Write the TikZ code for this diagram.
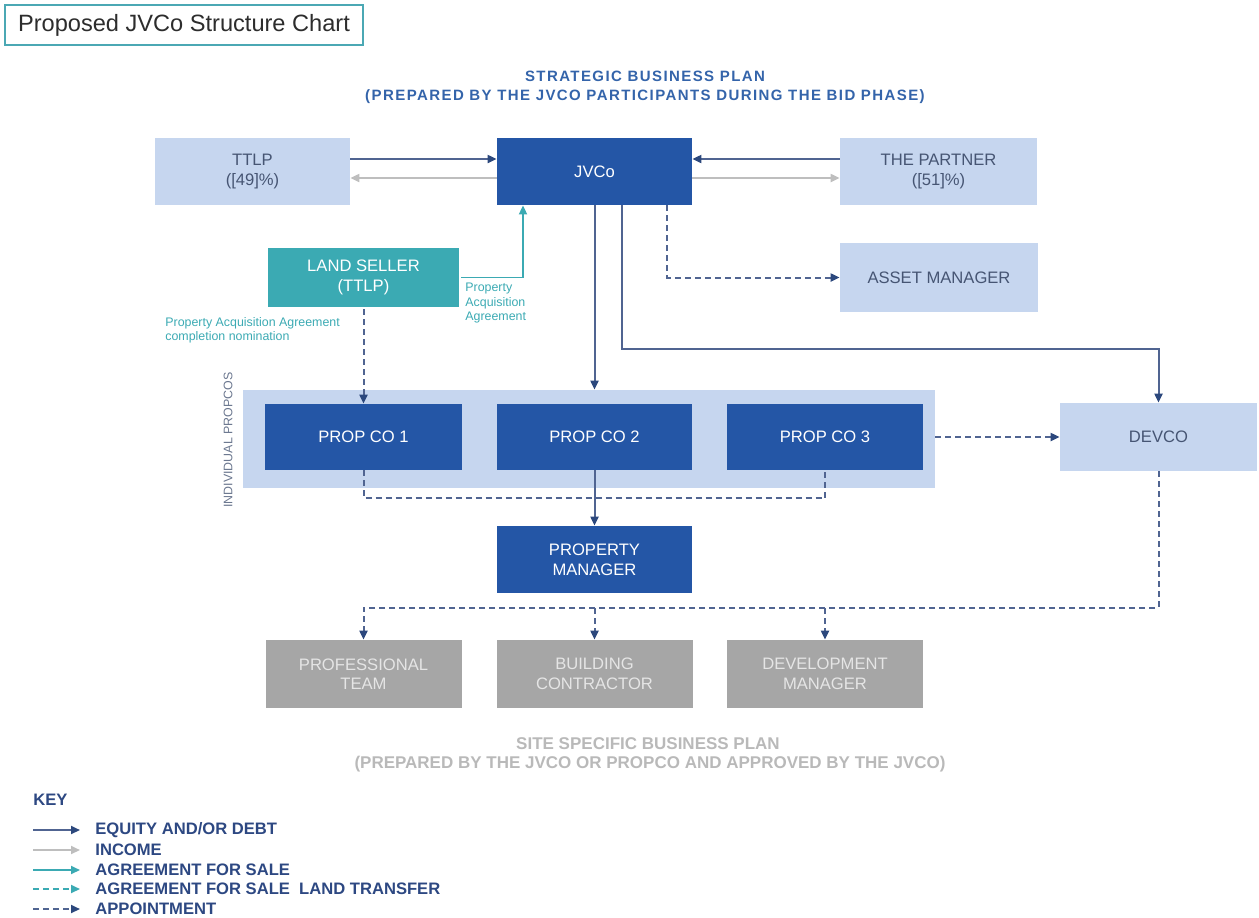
\documentclass[tikz,border=0pt]{standalone}
\usepackage{fontspec}
\setmainfont{Liberation Sans}
\usetikzlibrary{arrows.meta,calc}
\definecolor{dblue}{RGB}{36,86,166}
\definecolor{lblue}{RGB}{198,214,239}
\definecolor{navy}{RGB}{44,72,125}
\definecolor{lnavy}{RGB}{80,100,145}
\definecolor{boxtxt}{RGB}{70,85,115}
\definecolor{incgray}{RGB}{190,190,190}
\definecolor{tealc}{RGB}{59,170,179}
\definecolor{boxgray}{RGB}{166,166,166}
\definecolor{headblue}{RGB}{52,100,170}
\definecolor{sitegray}{RGB}{185,185,185}
\definecolor{keynavy}{RGB}{45,72,130}
\definecolor{titlegray}{RGB}{45,45,45}
\definecolor{titleteal}{RGB}{75,168,180}
\tikzset{
  lbox/.style={fill=lblue, minimum width=97.5pt, minimum height=33.5pt, text=boxtxt, align=center, font=\fontsize{8.3}{9.8}\selectfont, inner sep=0pt},
  dbox/.style={fill=dblue, minimum width=97.5pt, minimum height=33.5pt, text=white, align=center, font=\fontsize{8.3}{9.8}\selectfont, inner sep=0pt},
  gbox/.style={fill=boxgray, minimum width=98pt, minimum height=34pt, text=white!90!black, align=center, font=\fontsize{8.3}{9.8}\selectfont, inner sep=0pt},
  tbox/.style={fill=tealc, draw=white, line width=1pt, minimum width=96.5pt, minimum height=30.5pt, text=white, align=center, font=\fontsize{8.3}{9.8}\selectfont, inner sep=0pt},
  eq/.style={draw=lnavy, line width=1pt, arrows={-{Triangle[length=4.5pt,width=4pt,fill=navy,color=navy]}}},
  inc/.style={draw=incgray, line width=1pt, arrows={-{Triangle[length=4.5pt,width=4pt]}}},
  sale/.style={draw=tealc, line width=0.9pt, arrows={-{Triangle[length=4.5pt,width=4pt]}}},
  saled/.style={draw=tealc, line width=0.9pt, dash pattern=on 3pt off 2pt, arrows={-{Triangle[length=4.5pt,width=4pt]}}},
  appt/.style={draw=lnavy, line width=1pt, dash pattern=on 3pt off 2pt, arrows={-{Triangle[length=4.5pt,width=4pt,fill=navy,color=navy]}}},
  apptl/.style={draw=lnavy, line width=1pt, dash pattern=on 3pt off 2pt},
  keytxt/.style={anchor=west, text=keynavy, font=\fontsize{8.3}{9.5}\selectfont\bfseries, inner sep=0pt},
  small/.style={text=tealc, font=\fontsize{6.2}{7.2}\selectfont, align=left, inner sep=0pt}
}
\begin{document}
\begin{tikzpicture}[x=0.5pt,y=-0.5pt]
\useasboundingbox (0,0) rectangle (1259,917);
% title
\node[draw=titleteal, line width=1.3pt, fill=white, minimum width=179pt, minimum height=20pt, text=titlegray, font=\fontsize{11.8}{13}\selectfont, inner sep=0pt] (title) at (184,25) {Proposed JVCo Structure Chart};
% heading
\node[text=headblue, font=\fontsize{7.5}{9}\selectfont\bfseries\addfontfeature{LetterSpace=9.5}] (head1) at (645,76) {STRATEGIC BUSINESS PLAN};
\node[text=headblue, font=\fontsize{7.5}{9}\selectfont\bfseries\addfontfeature{LetterSpace=9.5}] (head2) at (645,97) {(PREPARED BY THE JVCO PARTICIPANTS DURING THE BID PHASE)};
% top row
\node[lbox] (ttlp) at (252.5,171.5) {TTLP\\([49]\%)};
\node[dbox] (jvco) at (594.5,171.5) {JVCo};
\node[lbox, minimum width=98.5pt] (partner) at (938.5,171.5) {THE PARTNER\\([51]\%)};
\node[tbox] (land) at (363.5,277.5) {LAND SELLER\\(TTLP)};
\node[lbox, minimum width=99pt, minimum height=34.5pt] (asset) at (939,277.5) {ASSET MANAGER};
% propcos band
\node[fill=lblue, minimum width=346pt, minimum height=49pt, inner sep=0pt] (band) at (589,439) {};
\node[dbox, minimum width=98.5pt, minimum height=33pt] (p1) at (363.5,437) {PROP CO 1};
\node[dbox, minimum height=33pt] (p2) at (594.5,437) {PROP CO 2};
\node[dbox, minimum width=98pt, minimum height=33pt] (p3) at (825,437) {PROP CO 3};
\node[lbox, minimum width=98.5pt, minimum height=34pt] (devco) at (1158.5,437) {DEVCO};
\node[rotate=90, text=boxtxt!80!white, font=\fontsize{6.2}{7}\selectfont, inner sep=0pt] (indiv) at (228,440) {INDIVIDUAL PROPCOS};
\node[dbox] (pm) at (594.5,559.5) {PROPERTY\\MANAGER};
% bottom row
\node[gbox] (prof) at (363.5,674) {PROFESSIONAL\\TEAM};
\node[gbox] (build) at (594.5,674) {BUILDING\\CONTRACTOR};
\node[gbox] (devm) at (825,674) {DEVELOPMENT\\MANAGER};
\node[text=sitegray, font=\fontsize{8.5}{9}\selectfont\bfseries] (site1) at (648,744) {SITE SPECIFIC BUSINESS PLAN};
\node[text=sitegray, font=\fontsize{8.5}{9}\selectfont\bfseries] (site2) at (650,764) {(PREPARED BY THE JVCO OR PROPCO AND APPROVED BY THE JVCO)};
% labels
\node[small, anchor=north west] (lab1) at (465,283) {Property\\Acquisition\\Agreement};
\node[small, anchor=north west] (lab2) at (165,317) {Property Acquisition Agreement\\completion nomination};
% helper coordinates
\coordinate (y159) at (0,159);
\coordinate (y178) at (0,178);
\coordinate (bus) at (0,608);
% connectors top
\draw[eq] (ttlp.east |- y159) -- (jvco.west |- y159);
\draw[inc] (jvco.west |- y178) -- (ttlp.east |- y178);
\draw[eq] (partner.west |- y159) -- (jvco.east |- y159);
\draw[inc] (jvco.east |- y178) -- (partner.west |- y178);
\draw[sale] (land.east) -| ($(jvco.south)+(-71.5,0)$);
\draw[appt] (land.south) -- (p1.north);
\draw[appt] ($(jvco.south)+(72.5,0)$) |- (asset.west);
\draw[eq] (jvco.south) -- (band.north -| jvco.south);
\draw[eq] ($(jvco.south)+(27.5,0)$) -- ++(0,144) -| (devco.north);
\draw[appt] (band.east |- devco.west) -- (devco.west);
\draw[apptl] (p1.south) -- ++(0,28) -| (p3.south);
\draw[eq] (p2.south) -- (pm.north);
\draw[appt] (devco.south) |- (bus -| prof.north) -- (prof.north);
\draw[appt] (bus -| build.north) -- (build.north);
\draw[appt] (bus -| devm.north) -- (devm.north);
% key
\node[keytxt] (key) at (33,800) {KEY};
\foreach \i/\yy/\sty/\txt in {1/830/eq/{EQUITY AND/OR DEBT}, 2/850/inc/INCOME, 3/870/sale/AGREEMENT FOR SALE, 4/889/saled/AGREEMENT FOR SALE\ \ LAND TRANSFER, 5/909/appt/APPOINTMENT}{
  \coordinate (ks\i) at (33,\yy);
  \coordinate (ke\i) at (80,\yy);
  \draw[\sty] (ks\i) -- (ke\i);
  \node[keytxt] (kt\i) at (95,\yy) {\txt};
}
\end{tikzpicture}
\end{document}
